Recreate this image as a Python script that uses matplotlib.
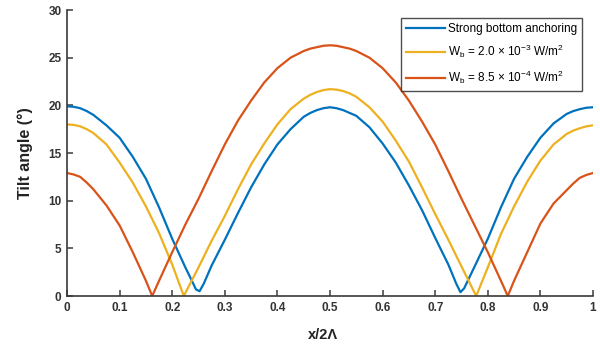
import matplotlib
matplotlib.use("Agg")
import matplotlib.pyplot as plt

plt.rcParams['font.family'] = ['Liberation Sans', 'DejaVu Sans']
plt.rcParams['mathtext.default'] = 'regular'

# tilt angle profiles across one period (x in units of 2*Lambda)
x_strong = [0, 0.0125, 0.025, 0.0375, 0.05, 0.075, 0.1, 0.125, 0.15, 0.175, 0.2, 0.225, 0.24, 0.245,
            0.252, 0.26, 0.275, 0.3, 0.325, 0.35, 0.375, 0.4, 0.425, 0.45, 0.4625, 0.475, 0.4875, 0.5,
            0.5125, 0.525, 0.5375, 0.55, 0.575, 0.6, 0.625, 0.65, 0.675, 0.7, 0.725, 0.74, 0.748, 0.755,
            0.775, 0.8, 0.825, 0.85, 0.875, 0.9, 0.925, 0.95, 0.9625, 0.975, 0.9875, 1.0]
tilt_strong = [19.9, 19.85, 19.7, 19.4, 19.0, 17.9, 16.6, 14.6, 12.3, 9.3, 6.0, 3.0, 1.3, 0.7,
               0.5, 1.3, 3.2, 5.9, 8.7, 11.4, 13.8, 15.9, 17.5, 18.8, 19.2, 19.5, 19.7, 19.8,
               19.7, 19.5, 19.2, 18.9, 17.7, 16.0, 14.0, 11.6, 9.0, 6.1, 3.3, 1.3, 0.4, 0.8,
               3.1, 6.0, 9.3, 12.3, 14.6, 16.6, 18.1, 19.1, 19.4, 19.6, 19.75, 19.8]

x_w2 = [0, 0.0125, 0.025, 0.0375, 0.05, 0.075, 0.1, 0.125, 0.15, 0.175, 0.2, 0.222,
        0.25, 0.275, 0.3, 0.325, 0.35, 0.375, 0.4, 0.425, 0.45, 0.4625, 0.475, 0.4875, 0.5,
        0.5125, 0.525, 0.5375, 0.55, 0.575, 0.6, 0.625, 0.65, 0.675, 0.7, 0.725, 0.75, 0.778,
        0.8, 0.825, 0.85, 0.875, 0.9, 0.925, 0.95, 0.9625, 0.975, 0.9875, 1.0]
tilt_w2 = [18.0, 17.95, 17.8, 17.5, 17.1, 15.9, 14.0, 11.9, 9.4, 6.6, 3.3, 0.0,
           3.0, 5.8, 8.4, 11.2, 13.8, 16.0, 18.0, 19.6, 20.7, 21.1, 21.4, 21.6, 21.7,
           21.65, 21.5, 21.25, 20.9, 19.8, 18.3, 16.3, 14.1, 11.4, 8.6, 5.9, 3.1, 0.0,
           3.0, 6.5, 9.4, 12.0, 14.2, 15.9, 17.0, 17.35, 17.6, 17.8, 17.9]

x_w85 = [0, 0.0125, 0.025, 0.0375, 0.05, 0.075, 0.1, 0.125, 0.15, 0.162, 0.175, 0.2, 0.225,
         0.25, 0.275, 0.3, 0.325, 0.35, 0.375, 0.4, 0.425, 0.45, 0.4625, 0.475, 0.4875, 0.5,
         0.5125, 0.525, 0.5375, 0.55, 0.575, 0.6, 0.625, 0.65, 0.675, 0.7, 0.725, 0.75,
         0.775, 0.8, 0.825, 0.838, 0.85, 0.875, 0.9, 0.925, 0.95, 0.9625, 0.975, 0.9875, 1.0]
tilt_w85 = [12.9, 12.75, 12.5, 11.9, 11.2, 9.5, 7.4, 4.6, 1.6, 0.0, 1.6, 4.6, 7.5,
            10.2, 13.1, 15.9, 18.4, 20.5, 22.4, 23.9, 25.0, 25.7, 25.95, 26.1, 26.25, 26.3,
            26.25, 26.1, 25.95, 25.7, 25.0, 23.9, 22.4, 20.5, 18.3, 15.9, 13.1, 10.2,
            7.4, 4.6, 1.6, 0.0, 1.6, 4.6, 7.6, 9.7, 11.1, 11.8, 12.4, 12.7, 12.9]

labels = ['Strong bottom anchoring',
          'W$_b$ = 2.0 × 10$^{-3}$ W/m$^2$',
          'W$_b$ = 8.5 × 10$^{-4}$ W/m$^2$']
colors = ['#0072BD', '#EDB120', '#D95319']

fig = plt.figure(figsize=(6, 3.48), dpi=100)
ax = fig.add_axes([0.1117, 0.1494, 0.8766, 0.8218])

ax.plot(x_strong, tilt_strong, color=colors[0], lw=1.6, label=labels[0])
ax.plot(x_w2, tilt_w2, color=colors[1], lw=1.6, label=labels[1])
ax.plot(x_w85, tilt_w85, color=colors[2], lw=1.6, label=labels[2])

ax.set_xlim(0, 1)
ax.set_ylim(0, 30)
ax.set_xticks([0, 0.1, 0.2, 0.3, 0.4, 0.5, 0.6, 0.7, 0.8, 0.9, 1])
ax.set_xticklabels(['0', '0.1', '0.2', '0.3', '0.4', '0.5', '0.6', '0.7', '0.8', '0.9', '1'])
ax.set_yticks([0, 5, 10, 15, 20, 25, 30])

for side in ['top', 'right']:
    ax.spines[side].set_visible(False)
for side in ['left', 'bottom']:
    ax.spines[side].set_color('#3a3a3a')
    ax.spines[side].set_linewidth(1.2)

ax.tick_params(direction='in', length=4, width=1.1, color='#3a3a3a',
               labelsize=8.5, labelcolor='#333333', pad=4)
for lbl in ax.get_xticklabels() + ax.get_yticklabels():
    lbl.set_fontweight('bold')

ax.set_xlabel('x/2Λ', fontsize=10.5, fontweight='bold', color='#222222')
ax.xaxis.set_label_coords(0.487, -0.112)
ax.set_ylabel('Tilt angle (°)', fontsize=11.5, fontweight='bold', color='#222222', labelpad=11)

leg = ax.legend(loc='upper right', bbox_to_anchor=(0.97, 0.948),
                bbox_transform=fig.transFigure, fontsize=8.5, frameon=True,
                fancybox=False, edgecolor='#222222', borderaxespad=0,
                handlelength=3.3, handletextpad=0.3, labelspacing=0.7,
                borderpad=0.4)
leg.get_frame().set_linewidth(1.0)

fig.savefig('out.png', dpi=100)
